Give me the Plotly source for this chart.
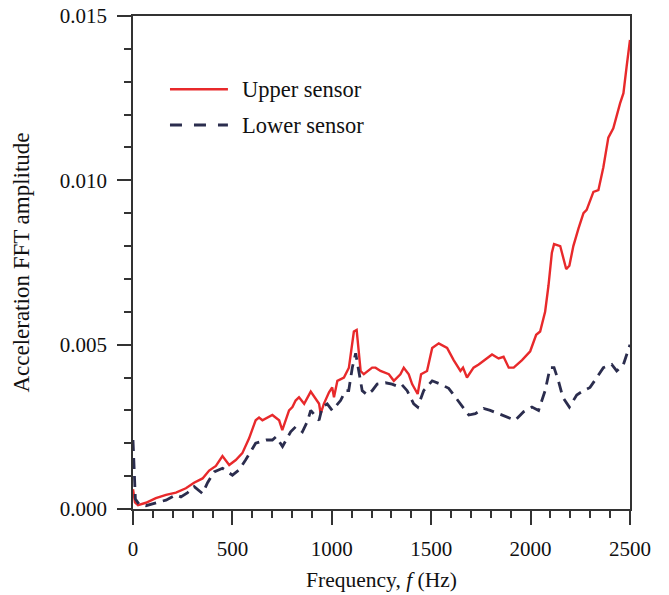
import plotly.graph_objects as go

# ---- data ----
upper_f = [0, 10, 25, 65, 115, 166, 216, 266, 307, 350, 383, 417, 450, 484, 517, 550,
           584, 617, 634, 651, 701, 735, 751, 785, 802, 818, 835, 861, 894, 936, 944,
           960, 986, 1002, 1011, 1028, 1061, 1086, 1111, 1125, 1145, 1161, 1203, 1220,
           1245, 1287, 1312, 1345, 1362, 1387, 1404, 1432, 1449, 1479, 1505, 1538, 1580,
           1613, 1647, 1660, 1680, 1713, 1739, 1772, 1806, 1839, 1864, 1890, 1915, 1957,
           1998, 2028, 2048, 2073, 2090, 2107, 2118, 2149, 2179, 2195, 2215, 2241, 2266,
           2282, 2316, 2341, 2366, 2391, 2416, 2450, 2467, 2483, 2500]
upper_v = [0.0006, 0.0002, 0.00012, 0.00019, 0.00033, 0.00043, 0.0005, 0.00063, 0.0008,
           0.00093, 0.00117, 0.00131, 0.00161, 0.00134, 0.00149, 0.0017, 0.00215, 0.0027,
           0.00278, 0.0027, 0.00286, 0.0027, 0.0024, 0.003, 0.0031, 0.0033, 0.0034,
           0.0032, 0.00357, 0.0032, 0.0029, 0.0032, 0.00355, 0.0037, 0.0034, 0.0039,
           0.0040, 0.0043, 0.0054, 0.00545, 0.0042, 0.0041, 0.0043, 0.0043, 0.0042,
           0.0041, 0.0039, 0.0041, 0.0043, 0.0041, 0.0038, 0.0035, 0.0041, 0.0042,
           0.0049, 0.00504, 0.0049, 0.00453, 0.0042, 0.0043, 0.0040, 0.0043, 0.0044,
           0.00455, 0.0047, 0.00458, 0.00463, 0.0043, 0.0043, 0.00453, 0.0048, 0.0053,
           0.0054, 0.006, 0.0068, 0.0078, 0.00806, 0.0080, 0.0073, 0.0074, 0.0080,
           0.00854, 0.009, 0.0091, 0.00965, 0.0097, 0.0104, 0.0113, 0.01158, 0.01234,
           0.01265, 0.01346, 0.01427]

lower_f = [0, 12, 30, 65, 124, 166, 216, 241, 275, 308, 350, 375, 408, 450, 500, 534,
           567, 617, 642, 670, 701, 720, 752, 793, 818, 852, 877, 894, 936, 952, 977,
           1002, 1044, 1069, 1085, 1103, 1120, 1137, 1153, 1178, 1203, 1228, 1270, 1303,
           1329, 1350, 1379, 1412, 1432, 1462, 1505, 1547, 1588, 1622, 1663, 1689, 1722,
           1764, 1797, 1839, 1881, 1923, 1965, 2007, 2040, 2073, 2098, 2118, 2140, 2162,
           2195, 2232, 2266, 2299, 2333, 2366, 2408, 2433, 2467, 2500]
lower_v = [0.0021, 0.0003, 0.00015, 0.0001, 0.0002, 0.00027, 0.00043, 0.00037, 0.0005,
           0.00068, 0.00047, 0.0008, 0.00113, 0.00124, 0.00103, 0.00119, 0.0015, 0.002,
           0.00205, 0.0021, 0.0021, 0.0022, 0.0019, 0.00235, 0.0025, 0.00235, 0.00266,
           0.003, 0.0027, 0.0031, 0.0032, 0.003, 0.0033, 0.0036, 0.0036, 0.0043, 0.00474,
           0.0041, 0.0036, 0.00347, 0.0036, 0.0038, 0.00384, 0.0038, 0.00374, 0.0038,
           0.0036, 0.0032, 0.0031, 0.0036, 0.0039, 0.0038, 0.00367, 0.0034, 0.00306,
           0.00286, 0.0029, 0.00306, 0.003, 0.0029, 0.0028, 0.0027, 0.00296, 0.0031,
           0.003, 0.0036, 0.0043, 0.0043, 0.0039, 0.0034, 0.0031, 0.00347, 0.0036,
           0.0037, 0.0040, 0.0043, 0.0044, 0.0042, 0.0044, 0.005]

x_ticks = [0, 500, 1000, 1500, 2000, 2500]
y_ticks = [0.000, 0.005, 0.010, 0.015]
series_names = ["Upper sensor", "Lower sensor"]

RED = "#e8292b"
NAVY = "#2b2d4e"
AX = "#333333"
FONT = "Liberation Serif, Times New Roman, serif"

fig = go.Figure()
fig.add_trace(go.Scatter(x=upper_f, y=upper_v, mode="lines", name=series_names[0],
                         line=dict(color=RED, width=2.4), showlegend=False))
fig.add_trace(go.Scatter(x=lower_f, y=lower_v, mode="lines", name=series_names[1],
                         line=dict(color=NAVY, width=2.8, dash="11px,7px"), showlegend=False))

# manual legend (long line samples like the reference)
leg = [(series_names[0], RED, "solid", 2.4, 0.8513),
       (series_names[1], NAVY, "12px,12px", 2.8, 0.7789)]
for name, col, dash, w, yy in leg:
    fig.add_shape(type="line", xref="paper", yref="paper", x0=0.0744, x1=0.191, y0=yy, y1=yy,
                  line=dict(color=col, width=w, dash=dash))
    fig.add_annotation(xref="paper", yref="paper", x=0.2153, y=yy, text=name, showarrow=False,
                       xanchor="left", yanchor="middle", font=dict(family=FONT, size=22.5, color="#111"))

axis_common = dict(showline=True, linecolor=AX, linewidth=1.5, mirror=True, showgrid=False,
                   zeroline=False, ticks="outside", tickcolor=AX, tickwidth=1.5, ticklen=14,
                   automargin=False, ticklabeloverflow="allow",
                   tickfont=dict(family=FONT, size=21, color="#111"))
fig.update_xaxes(range=[0, 2500], tickvals=x_ticks, ticktext=[str(v) for v in x_ticks],
                 minor=dict(dtick=100, ticks="outside", ticklen=7, tickcolor=AX, tickwidth=1.5),
                 title=dict(text="Frequency, <i>f</i> (Hz)", font=dict(family=FONT, size=21.5, color="#111"),
                            standoff=12),
                 ticklabelstandoff=6, **axis_common)
fig.update_yaxes(range=[0, 0.015], tickvals=y_ticks, ticktext=[f"{v:.3f}" for v in y_ticks],
                 minor=dict(dtick=0.001, ticks="outside", ticklen=7, tickcolor=AX, tickwidth=1.5),
                 title=dict(text="Acceleration FFT amplitude", font=dict(family=FONT, size=23, color="#111"),
                            standoff=24),
                 ticklabelstandoff=6, **axis_common)

# page body keeps an 8px default margin, so the figure is 8px smaller on each axis
fig.update_layout(width=661, height=587, margin=dict(l=125, r=39, t=8, b=86),
                  plot_bgcolor="white", paper_bgcolor="white", showlegend=False,
                  font=dict(family=FONT, size=21, color="#111"))

fig.write_html("out.html")
